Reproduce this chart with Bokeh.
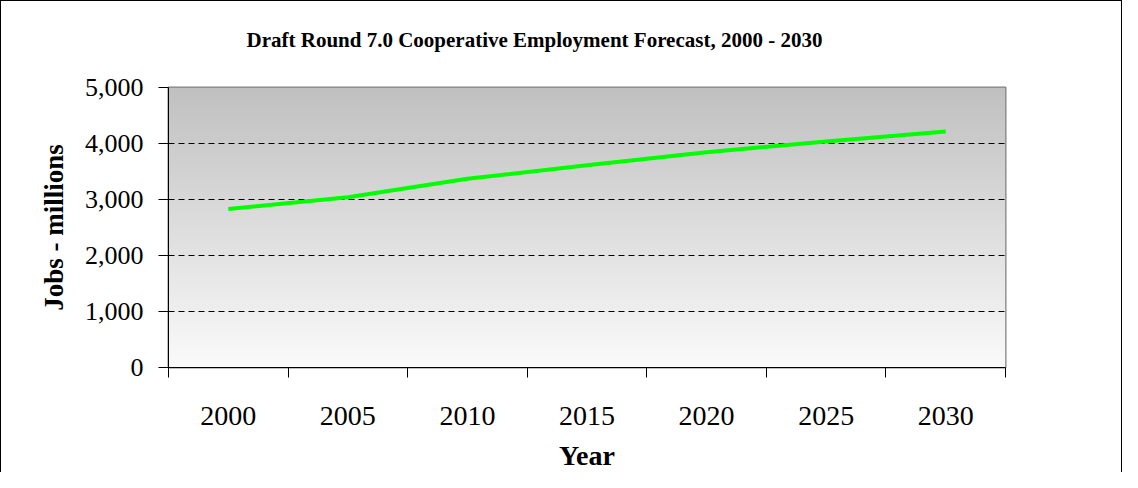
import numpy as np
from bokeh.plotting import figure
from bokeh.models import Range1d, FixedTicker, NumeralTickFormatter, CustomJSTickFormatter, Title
from bokeh.embed import file_html
from bokeh.resources import INLINE

title_text = "Draft Round 7.0 Cooperative Employment Forecast, 2000 - 2030"
x_title = "Year"
y_title = "Jobs - millions"
years = ["2000", "2005", "2010", "2015", "2020", "2025", "2030"]
jobs = [2830, 3040, 3372, 3610, 3844, 4036, 4214]
y_ticks = [0, 1000, 2000, 3000, 4000, 5000]
grid_ticks = [1000, 2000, 3000, 4000]

xpos = [i + 0.5 for i in range(len(years))]

p = figure(width=1122, height=472, output_backend="svg", toolbar_location=None,
           x_range=Range1d(0, len(years)), y_range=Range1d(0, 5000),
           min_border_left=167, min_border_right=118, min_border_top=86, min_border_bottom=105)
p.styles = {"border-left": "1px solid black", "border-top": "1px solid black",
            "border-right": "1px solid black", "box-sizing": "border-box"}

# gradient background
n = 200
img = np.zeros((n, 1), dtype=np.uint32)
view = img.view(dtype=np.uint8).reshape((n, 1, 4))
for r in range(n):
    g = int(round(250 + (192 - 250) * r / (n - 1)))
    view[r, 0, :] = [g, g, g, 255]
p.image_rgba(image=[img], x=0, y=0, dw=len(years), dh=5000, level="image")

p.line(xpos, jobs, line_color="#00FF00", line_width=4)

p.background_fill_color = "white"
p.outline_line_color = "#808080"
p.outline_line_width = 2

# title
p.title.text = title_text
p.title.text_font = "Liberation Serif"
p.title.text_font_size = "21px"
p.title.text_font_style = "bold"
p.title.text_color = "black"
p.title.align = "left"
p.title.offset = 78
p.title.standoff = 10
# blank spacer between title and frame
p.add_layout(Title(text=" ", text_font_size="10px", standoff=18), "above")

# x axis
xa = p.xaxis[0]
xa.ticker = FixedTicker(ticks=xpos, minor_ticks=list(range(len(years) + 1)))
xa.formatter = CustomJSTickFormatter(args=dict(labels=years), code="return labels[Math.floor(tick)];")
xa.major_tick_line_color = None
xa.major_tick_out = 10
xa.major_tick_in = 0
xa.minor_tick_line_color = "black"
xa.minor_tick_out = 10
xa.minor_tick_in = 0
xa.axis_line_color = "black"
xa.axis_line_width = 1
xa.major_label_text_font = "Liberation Serif"
xa.major_label_text_font_size = "28px"
xa.major_label_text_color = "black"
xa.major_label_standoff = 29
xa.axis_label = x_title
xa.axis_label_text_font = "Liberation Serif"
xa.axis_label_text_font_size = "28px"
xa.axis_label_text_font_style = "bold"
xa.axis_label_text_color = "black"
xa.axis_label_standoff = 12

# y axis
ya = p.yaxis[0]
ya.ticker = FixedTicker(ticks=y_ticks)
ya.formatter = NumeralTickFormatter(format="0,0")
ya.major_tick_out = 10
ya.major_tick_in = 0
ya.minor_tick_line_color = None
ya.axis_line_color = "black"
ya.major_label_text_font = "Liberation Serif"
ya.major_label_text_font_size = "26px"
ya.major_label_text_color = "black"
ya.major_label_standoff = 15
ya.axis_label = y_title
ya.axis_label_text_font = "Liberation Serif"
ya.axis_label_text_font_size = "27px"
ya.axis_label_text_font_style = "bold"
ya.axis_label_text_color = "black"
ya.axis_label_standoff = 13

p.xgrid.visible = False
p.ygrid.ticker = FixedTicker(ticks=grid_ticks)
p.ygrid.grid_line_color = "black"
p.ygrid.grid_line_dash = "6 4"
p.ygrid.grid_line_width = 1

open("out.html", "w").write(file_html(p, INLINE))
